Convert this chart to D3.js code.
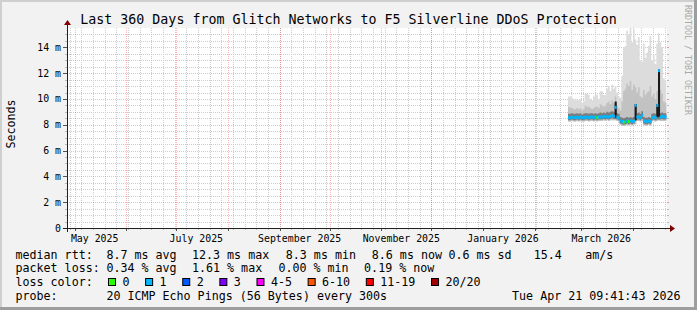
<!DOCTYPE html>
<html>
<head>
<meta charset="utf-8">
<title>Glitch Networks to F5 Silverline DDoS Protection</title>
<script src="https://cdn.jsdelivr.net/npm/d3@7/dist/d3.min.js"></script>
<style>
  body { margin: 0; }
  text { font-family: "DejaVu Sans Mono", monospace; fill: #000; }
</style>
</head>
<body>
<svg width="697" height="310"></svg>
<script>
// values, one per day starting at firstDay (ms)
var title = "Last 360 Days from Glitch Networks to F5 Silverline DDoS Protection";
var endTime = new Date(2026, 3, 21, 9, 41, 43);
var firstDay = new Date(2026, 1, 21);

var median = [8.55,8.55,8.6,8.55,8.55,8.6,8.55,8.6,8.55,8.55,
  8.6,8.6,8.55,8.6,8.6,8.55,8.6,8.55,8.6,8.6,
  8.6,8.65,8.6,8.65,8.6,8.65,8.7,8.65,9.35,8.6,
  8.55,8.3,8.25,8.2,8.25,8.3,8.25,8.3,8.25,8.3,
  9.5,8.6,8.6,8.55,8.75,8.3,8.25,8.25,8.3,8.25,
  8.55,8.6,8.55,9.5,12.2,8.6,8.65,8.6,8.6];
// index into lossLabels / lossColors
var loss = [1,1,1,1,1,1,1,1,1,1,
  1,1,1,1,1,1,1,0,1,1,
  1,1,1,1,1,1,1,1,1,1,
  1,1,1,0,1,1,0,1,1,1,
  1,1,1,1,1,1,1,1,1,1,
  1,1,1,1,1,1,1,1,1];
var pingMax = [10.2,10.2,10.1,10.0,9.9,10.0,9.9,10.0,9.7,9.8,
  10.4,10.4,10.3,10.0,9.9,10.2,10.3,10.3,10.0,10.6,
  10.6,10.3,10.3,10.8,11.0,10.6,11.1,10.8,11.0,10.5,
  10.2,10.1,11.8,14.0,14.1,15.3,15.0,15.5,14.4,15.4,
  14.6,14.2,14.8,13.0,12.9,14.3,13.2,13.6,14.1,14.9,
  13.0,13.4,12.7,14.3,15.1,14.4,14.0,11.6,11.4];
var pingMin = [8.25,8.25,8.3,8.25,8.25,8.3,8.25,8.3,8.25,8.25,
  8.3,8.3,8.25,8.3,8.3,8.25,8.3,8.25,8.3,8.3,
  8.3,8.35,8.3,8.35,8.3,8.35,8.35,8.35,8.35,8.3,
  8.25,8.0,7.9,7.9,7.95,8.0,7.95,8.0,7.95,8.0,
  8.05,8.3,8.3,8.25,8.3,8.0,7.9,7.95,8.0,7.95,
  8.25,8.3,8.25,8.3,8.35,8.3,8.3,8.3,8.3];
var smokeHi = [9.4,9.3,9.3,9.2,9.2,9.3,9.2,9.3,9.1,9.2,
  9.5,9.4,9.4,9.3,9.2,9.3,9.4,9.4,9.3,9.6,
  9.5,9.4,9.5,9.7,9.8,9.6,9.9,9.7,10.2,9.5,
  9.3,9.1,9.8,10.6,10.8,11.2,11.0,11.4,10.7,11.1,
  10.9,10.5,10.9,10.2,10.1,10.7,10.3,10.5,10.6,11.0,
  10.2,10.4,10.0,10.6,11.2,10.7,10.4,9.8,9.7];
var darkHi = [8.85,8.85,8.9,8.85,8.85,8.9,8.85,8.9,8.8,8.85,
  8.9,8.9,8.85,8.9,8.9,8.85,8.9,8.85,8.9,8.95,
  8.9,8.95,8.9,9.0,8.95,9.0,9.05,9.0,9.6,8.9,
  8.85,8.6,8.55,8.5,8.55,8.6,8.55,8.6,8.55,8.6,
  9.6,8.9,8.95,8.85,9.05,8.6,8.55,8.55,8.6,8.55,
  8.85,8.9,8.85,9.6,9.0,8.9,8.95,8.9,8.9];
var darkLo = [8.35,8.35,8.4,8.35,8.35,8.4,8.35,8.4,8.35,8.35,
  8.4,8.4,8.35,8.4,8.4,8.35,8.4,8.35,8.4,8.4,
  8.4,8.45,8.4,8.45,8.4,8.45,8.5,8.45,8.45,8.4,
  8.35,8.1,8.05,8.0,8.05,8.1,8.05,8.1,8.05,8.1,
  8.3,8.4,8.4,8.35,8.45,8.1,8.05,8.05,8.1,8.05,
  8.35,8.4,8.35,8.4,8.4,8.4,8.45,8.4,8.4];
// days where the darkest smoke runs up with the median
var spikeDay = [28, 40, 53, 54];
var spikeLo = [8.55, 8.35, 8.6, 8.6];
var spikeHi = [9.8, 9.6, 9.6, 12.3];

var yTicks = [0, 2, 4, 6, 8, 10, 12, 14];
var yTickLabels = ["0", "2 m", "4 m", "6 m", "8 m", "10 m", "12 m", "14 m"];
var yMax = 15.5;

var rttLabel = "median rtt:";
var rttStats = ["8.7 ms avg", "12.3 ms max", "8.3 ms min", "8.6 ms now", "0.6 ms sd", "15.4", "am/s"];
var lossLabel = "packet loss:";
var lossStats = ["0.34 % avg", "1.61 % max", "0.00 % min", "0.19 % now"];
var colorLabel = "loss color:";
var lossLabels = ["0", "1", "2", "3", "4-5", "6-10", "11-19", "20/20"];
var lossColors = ["#26ff00", "#00b8ff", "#0059ff", "#7e00ff", "#ff00ff", "#ff5500", "#ff0000", "#a10000"];
var probeLabel = "probe:";
var probeText = "20 ICMP Echo Pings (56 Bytes) every 300s";
var stampText = "Tue Apr 21 09:41:43 2026";

var W = 697, H = 310;
var x0 = 67, x1 = 667, y0 = 228, y1 = 28;

var svg = d3.select("svg");
var startTime = d3.timeDay.offset(endTime, -360);

var x = d3.scaleTime().domain([startTime, endTime]).range([x0, x1]);
var y = d3.scaleLinear().domain([0, yMax]).range([y0, y1]);

// frame
svg.append("rect").attr("width", W).attr("height", H).attr("fill", "#f2f2f2");
svg.append("path").attr("d", "M0,0H" + W + "V2H2V" + H + "H0Z").attr("fill", "#cfcfcf");
svg.append("path").attr("d", "M" + W + ",0V" + H + "H0V" + (H - 3) + "H" + (W - 3) + "V0Z").attr("fill", "#9e9e9e");
svg.append("rect").attr("x", x0).attr("y", y1).attr("width", x1 - x0).attr("height", y0 - y1).attr("fill", "#fff");

function px(v) { return Math.round(v) + 0.5; }

// grid
var minorCol = "#cdcdcd", majorCol = "rgba(255,0,0,0.28)";
var grid = svg.append("g").attr("stroke-dasharray", "1,1").attr("stroke-width", 1);
var minorY = d3.range(0.5, yMax, 0.5).filter(v => v % 2 != 0);
grid.selectAll(".hmin").data(minorY).enter().append("line")
  .attr("x1", x0).attr("x2", x1)
  .attr("y1", d => px(y(d))).attr("y2", d => px(y(d)))
  .attr("stroke", minorCol);
var weeks = d3.timeMonday.range(startTime, endTime);
grid.selectAll(".vmin").data(weeks).enter().append("line")
  .attr("x1", d => px(x(d))).attr("x2", d => px(x(d)))
  .attr("y1", y1).attr("y2", y0)
  .attr("stroke", minorCol);
grid.selectAll(".hmaj").data(yTicks.slice(1)).enter().append("line")
  .attr("x1", x0).attr("x2", x1)
  .attr("y1", d => px(y(d))).attr("y2", d => px(y(d)))
  .attr("stroke", majorCol);
var months = d3.timeMonth.range(startTime, endTime);
grid.selectAll(".vmaj").data(months).enter().append("line")
  .attr("x1", d => px(x(d))).attr("x2", d => px(x(d)))
  .attr("y1", y1).attr("y2", y0)
  .attr("stroke", majorCol);

// ticks outside the canvas
var ticks = svg.append("g").attr("stroke-width", 1);
minorY.forEach(function(v) {
  ticks.append("line").attr("x1", x0 - 2).attr("x2", x0).attr("y1", px(y(v))).attr("y2", px(y(v))).attr("stroke", "#bbb");
  ticks.append("line").attr("x1", x1).attr("x2", x1 + 2).attr("y1", px(y(v))).attr("y2", px(y(v))).attr("stroke", "#bbb");
});
yTicks.forEach(function(v) {
  ticks.append("line").attr("x1", x0 - 4).attr("x2", x0).attr("y1", px(y(v))).attr("y2", px(y(v))).attr("stroke", "#555");
  ticks.append("line").attr("x1", x1).attr("x2", x1 + 2).attr("y1", px(y(v))).attr("y2", px(y(v))).attr("stroke", "rgba(255,0,0,0.4)");
});
weeks.forEach(function(d) {
  ticks.append("line").attr("x1", px(x(d))).attr("x2", px(x(d))).attr("y1", y0).attr("y2", y0 + 2).attr("stroke", "#bbb");
});
months.forEach(function(d) {
  ticks.append("line").attr("x1", px(x(d))).attr("x2", px(x(d))).attr("y1", y0).attr("y2", y0 + 3).attr("stroke", "#555");
});

// data
svg.append("clipPath").attr("id", "canvas").append("rect")
  .attr("x", x0).attr("y", y1).attr("width", x1 - x0).attr("height", y0 - y1);
var plot = svg.append("g").attr("clip-path", "url(#canvas)");

var rows = median.map(function(m, i) {
  return {
    t: d3.timeDay.offset(firstDay, i), t2: d3.timeDay.offset(firstDay, i + 1),
    med: m, loss: loss[i], min: pingMin[i], max: pingMax[i],
    smoke: smokeHi[i], dlo: darkLo[i], dhi: darkHi[i]
  };
});
// step areas need a closing point at the end of the last day
var stepRows = rows.concat([Object.assign({}, rows[rows.length - 1], { t: rows[rows.length - 1].t2 })]);

function band(lo, hi, color) {
  var area = d3.area()
    .x(d => x(d.t))
    .y0(d => y(d[lo]))
    .y1(d => y(d[hi]))
    .curve(d3.curveStepAfter);
  plot.append("path").datum(stepRows).attr("d", area).attr("fill", color);
}
band("min", "max", "#dcdcdc");
band("min", "smoke", "#c2c2c2");
band("dlo", "dhi", "#7c7c7c");

plot.selectAll(".spike").data(spikeDay).enter().append("rect")
  .attr("x", d => x(rows[d].t))
  .attr("width", d => x(rows[d].t2) - x(rows[d].t) + 0.4)
  .attr("y", (d, i) => y(spikeHi[i]))
  .attr("height", (d, i) => y(spikeLo[i]) - y(spikeHi[i]))
  .attr("fill", "#1a1a1a");

// median, coloured by loss
plot.selectAll(".med").data(rows).enter().append("rect")
  .attr("x", d => x(d.t))
  .attr("width", d => x(d.t2) - x(d.t) + 0.3)
  .attr("y", d => y(d.med) - 1.5)
  .attr("height", 3)
  .attr("fill", d => lossColors[d.loss]);

// axes
svg.append("line").attr("x1", x0 - 4).attr("x2", x1 + 4).attr("y1", y0 + 0.5).attr("y2", y0 + 0.5)
  .attr("stroke", "#202020");
svg.append("line").attr("x1", x0 + 0.5).attr("x2", x0 + 0.5).attr("y1", y0 + 4).attr("y2", y1 - 4)
  .attr("stroke", "#202020");
svg.append("path").attr("d", "M" + (x1 + 3) + "," + (y0 - 3) + "L" + (x1 + 3) + "," + (y0 + 4) + "L" + (x1 + 8) + "," + (y0 + 0.5) + "Z")
  .attr("fill", "#800000");
svg.append("path").attr("d", "M" + (x0 - 3) + "," + (y1 - 3) + "L" + (x0 + 4) + "," + (y1 - 3) + "L" + (x0 + 0.5) + "," + (y1 - 8) + "Z")
  .attr("fill", "#800000");

// axis labels
svg.selectAll(".ylab").data(yTicks).enter().append("text")
  .attr("x", 61).attr("y", d => y(d) + 3.5)
  .attr("text-anchor", "end").style("font-size", "9.9px")
  .text((d, i) => yTickLabels[i]);
var fmt = d3.timeFormat("%B %Y");
svg.selectAll(".xlab").data(d3.timeMonth.every(2).range(startTime, endTime)).enter().append("text")
  .attr("x", d => x(d3.timeDay.offset(d, 12)))
  .attr("y", 242)
  .attr("text-anchor", "middle").style("font-size", "9.9px")
  .text(d => fmt(d));

svg.append("text").attr("x", W / 2).attr("y", 24).attr("text-anchor", "middle")
  .style("font-size", "13.3px").text(title);
svg.append("text").attr("transform", "translate(14.5,124) rotate(-90)")
  .attr("text-anchor", "middle").style("font-size", "11.66px").text("Seconds");
svg.append("text").attr("transform", "translate(684.5,5) rotate(90)")
  .style("font-size", "8.3px").style("fill", "#a8a8a8").text("RRDTOOL / TOBI OETIKER");

// legend
var leg = svg.append("g").style("font-size", "11.66px");
var legX = 15.5;
var rttX = [106.4, 192, 285.8, 371.8, 448.4, 533.7, 585.2];
var lossX = [106.4, 192, 278.4, 364.1];

leg.append("text").attr("x", legX).attr("y", 258.5).text(rttLabel);
leg.selectAll(".rtt").data(rttStats).enter().append("text")
  .attr("x", (d, i) => rttX[i]).attr("y", 258.5).text(d => d);

leg.append("text").attr("x", legX).attr("y", 272).text(lossLabel);
leg.selectAll(".pl").data(lossStats).enter().append("text")
  .attr("x", (d, i) => lossX[i]).attr("y", 272).text(d => d);

leg.append("text").attr("x", legX).attr("y", 286).text(colorLabel);
var bx = 108;
lossLabels.forEach(function(lab, i) {
  leg.append("rect").attr("x", bx + 0.5).attr("y", 278.5).attr("width", 7).attr("height", 7)
    .attr("fill", lossColors[i]).attr("stroke", "#000").attr("stroke-width", 1);
  leg.append("text").attr("x", bx + 14.4).attr("y", 286).text(lab);
  bx += 14.4 + lab.length * 7.02 + 15.7;
});

leg.append("text").attr("x", legX).attr("y", 299.5).text(probeLabel);
leg.append("text").attr("x", 106.4).attr("y", 299.5).text(probeText);
leg.append("text").attr("x", 680.5).attr("y", 299.5).attr("text-anchor", "end").text(stampText);
</script>
</body>
</html>
